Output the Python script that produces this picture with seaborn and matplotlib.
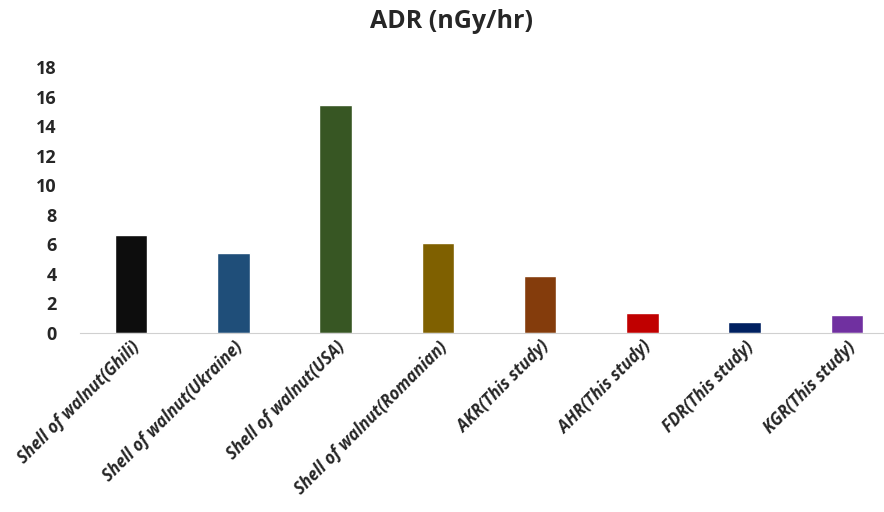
import matplotlib
matplotlib.use("Agg")
import matplotlib.pyplot as plt
import seaborn as sns
import pandas as pd

categories = ["Shell of walnut(Ghili)", "Shell of walnut(Ukraine)", "Shell of walnut(USA)",
              "Shell of walnut(Romanian)", "AKR(This study)", "AHR(This study)",
              "FDR(This study)", "KGR(This study)"]
adr = [6.6, 5.4, 15.45, 6.1, 3.85, 1.35, 0.75, 1.25]
colors = ["#0d0d0d", "#1f4e79", "#375623", "#7f6000", "#843c0c", "#c00000", "#002060", "#7030a0"]

df = pd.DataFrame({"cat": categories, "adr": adr})

sns.set_style("white")
plt.rcParams['font.family'] = ['Open Sans', 'DejaVu Sans']

fig = plt.figure(figsize=(8.84, 5.12), dpi=100)
ax = fig.add_axes([80/884, 179/512, 818/884, 266/512])
sns.barplot(data=df, x="cat", y="adr", hue="cat", palette=colors, legend=False,
            width=0.32, saturation=1, ax=ax)

ax.set_xlim(-0.5, 7.5)
ax.set_ylim(0, 18)
ax.set_yticks(range(0, 19, 2))
ax.set_xlabel("")
ax.set_ylabel("")
for s in ["top", "right", "left"]:
    ax.spines[s].set_visible(False)
ax.spines["bottom"].set_color("#d0d0d0")
ax.tick_params(axis="both", length=0)
ax.tick_params(axis="y", pad=17)
for t in ax.get_yticklabels():
    t.set_fontsize(13)
    t.set_fontweight("bold")
ax.set_xticks(range(len(categories)))
ax.set_xticklabels(categories, rotation=45, ha="right", rotation_mode="anchor",
                   fontsize=12, fontweight="bold", fontstyle="italic")

fig.text(452/884, 1 - 22/512, "ADR (nGy/hr)", ha="center", va="center",
         fontsize=18, fontweight="bold")

fig.savefig("out.png", dpi=100)
